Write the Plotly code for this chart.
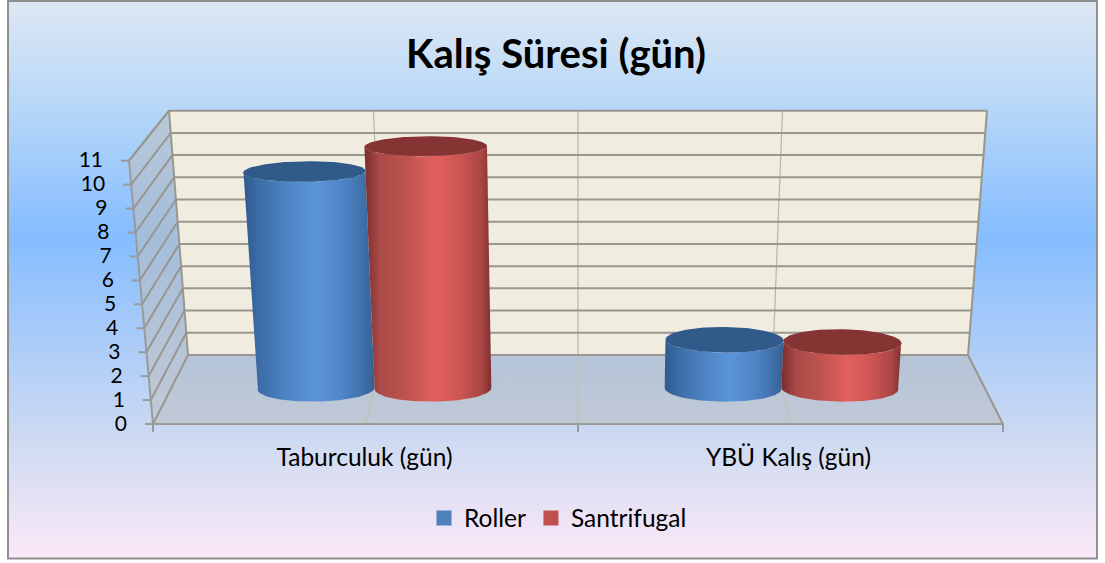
import numpy as np
import plotly.graph_objects as go

# ---- data ----
categories = ["Taburculuk (gün)", "YBÜ Kalış (gün)"]
roller = [9.4, 2.1]
santrifugal = [10.5, 2.0]
value_ticks = list(range(0, 12))
title_text = "Kalış Süresi (gün)"

FONT = "Lato, Carlito, Calibri, sans-serif"
W, H = 1105, 563
YMAX = 11

# axis scale: one category = 425 px, one value unit = 24 px on the front plane
def ax_x(px):
    return (px - 153) / 425
def ax_y(py):
    return (424 - py) / 23.94

# oblique projection of (category position, depth 0..1, value) onto the axes
def project(u, d, v):
    u, d, v = np.asarray(u, float), np.asarray(d, float), np.asarray(v, float)
    f = v / YMAX
    hf = 425 + (449 - 425) * f
    hb = 390 + (409 - 390) * f
    half = hf + (hb - hf) * d
    yf = 424 - f * (424 - 160.7)
    yb = 355 - f * (355 - 110.7)
    return ax_x(578 + (u - 1) * half), ax_y(yf + (yb - yf) * d)

def line_xy(segments):
    xs, ys = [], []
    for s in segments:
        x, y = project(*s)
        xs += list(x) + [None]
        ys += list(y) + [None]
    return xs, ys

fig = go.Figure()
def poly(x, y, **kw):
    fig.add_trace(go.Scatter(x=x, y=y, mode="lines", fill="toself", line=dict(width=0),
                             hoverinfo="skip", showlegend=False, **kw))

# background
bx = [ax_x(9), ax_x(1097), ax_x(1097), ax_x(9), ax_x(9)]
by = [ax_y(2), ax_y(2), ax_y(558), ax_y(558), ax_y(2)]
poly(bx, by, fillgradient=dict(type="vertical", colorscale=[
    [0, "#fbe8f8"], [0.2, "#d0dbf1"], [0.58, "#85bdff"], [0.82, "#b9d8f8"], [1, "#dde7f3"]]))

# walls
x, y = project([0, 2, 2, 0, 0], [1, 1, 1, 1, 1], [0, 0, 11, 11, 0])
poly(list(x), list(y), fillcolor="#f0ede0")
x, y = project([0, 0, 0, 0, 0], [0, 1, 1, 0, 0], [0, 0, 11, 11, 0])
poly(list(x), list(y), fillcolor="rgba(190,190,190,0.55)")
x, y = project([0, 2, 2, 0, 0], [0, 0, 1, 1, 0], [0, 0, 0, 0, 0])
poly(list(x), list(y), fillcolor="rgba(185,185,185,0.5)")

GRID = "#98968e"
# vertical divisions of wall and floor
segs = [([u, u], [1, 1], [0, 11]) for u in (0.5, 1, 1.5)]
xs, ys = line_xy(segs)
fig.add_trace(go.Scatter(x=xs, y=ys, mode="lines", line=dict(color="#b5b5a5", width=1.2),
                         hoverinfo="skip", showlegend=False))
segs = [([u, u], [0, 1], [0, 0]) for u in (0.5, 1, 1.5)]
xs, ys = line_xy(segs)
fig.add_trace(go.Scatter(x=xs, y=ys, mode="lines", line=dict(color="#c3c0b4", width=1.2),
                         hoverinfo="skip", showlegend=False))
# value gridlines running over side wall and back wall
segs = [([0, 0, 2], [0, 1, 1], [v, v, v]) for v in value_ticks]
segs.append(([2, 2], [0, 1], [0, 0]))
segs.append(([2, 2], [1, 1], [0, 11]))
segs.append(([0, 0], [1, 1], [0, 11]))
segs.append(([0, 0], [0, 1], [11, 11]))
xs, ys = line_xy(segs)
fig.add_trace(go.Scatter(x=xs, y=ys, mode="lines", line=dict(color=GRID, width=2),
                         hoverinfo="skip", showlegend=False))

# axis lines
segs = [([0, 2], [0, 0], [0, 0]), ([0, 0], [0, 0], [0, 11])]
xs, ys = line_xy(segs)
for v in value_ticks:
    tx, ty = project(0, 0, v)
    xs += [float(tx), float(tx) - 8 / 425, None]
    ys += [float(ty), float(ty), None]
for u in (0, 1, 2):
    tx, ty = project(u, 0, 0)
    xs += [float(tx), float(tx), None]
    ys += [float(ty), float(ty) - 8 / 23.94, None]
fig.add_trace(go.Scatter(x=xs, y=ys, mode="lines", line=dict(color="#9a9a9a", width=2),
                         hoverinfo="skip", showlegend=False))

# value labels
tx, ty = project(np.zeros(12), np.zeros(12), np.array(value_ticks))
fig.add_trace(go.Scatter(x=tx - 26 / 425, y=ty - 1.5 / 23.94, mode="text", text=[str(v) for v in value_ticks],
                         textposition="middle left", textfont=dict(family=FONT, size=21, color="#000"),
                         hoverinfo="skip", showlegend=False))

# cylinders
R_U, R_D, D_C, OFFSET = 0.1435, 0.196, 0.52, 0.1435
def cylinder(center, value, side_scale, top_color):
    t = np.linspace(np.pi, 2 * np.pi, 61)
    bx, by = project(center + R_U * np.cos(t), D_C + R_D * np.sin(t), np.zeros_like(t))
    tx, ty = project(center + R_U * np.cos(t), D_C + R_D * np.sin(t), np.full_like(t, value))
    poly(list(bx) + list(tx[::-1]) + [bx[0]], list(by) + list(ty[::-1]) + [by[0]],
         fillgradient=dict(type="horizontal", colorscale=side_scale))
    t = np.linspace(0, 2 * np.pi, 121)
    tx, ty = project(center + R_U * np.cos(t), D_C + R_D * np.sin(t), np.full_like(t, value))
    poly(list(tx), list(ty), fillcolor=top_color)

BLUE = [[0, "#2f5a8f"], [0.12, "#3c6ca6"], [0.35, "#4f86c6"], [0.55, "#5b94d9"],
        [0.75, "#4f86c8"], [0.92, "#3f6fa8"], [1, "#355f92"]]
RED = [[0, "#7a2c2c"], [0.12, "#a94a48"], [0.35, "#c2544f"], [0.55, "#e2605c"],
       [0.75, "#cc5653"], [0.92, "#aa4645"], [1, "#7f3030"]]
for i in range(len(categories)):
    cylinder(i + 0.5 - OFFSET, roller[i], BLUE, "#2f5a8a")
    cylinder(i + 0.5 + OFFSET, santrifugal[i], RED, "#853333")

# category labels
fig.add_trace(go.Scatter(x=[ax_x(364.5), ax_x(788.5)], y=[ax_y(460)] * 2, mode="text", text=categories,
                         textposition="middle center", textfont=dict(family=FONT, size=24.5, color="#000"),
                         hoverinfo="skip", showlegend=False))

# legend entries
for name, c in (("Roller", "#4f81bd"), ("Santrifugal", "#c0504d")):
    fig.add_trace(go.Scatter(x=[None], y=[None], mode="markers", name=name,
                             marker=dict(symbol="square", size=15, color=c)))

fig.update_layout(
    width=W, height=H, autosize=False,
    margin=dict(l=0, r=0, t=0, b=0),
    paper_bgcolor="white", plot_bgcolor="rgba(0,0,0,0)",
    xaxis=dict(range=[ax_x(0), ax_x(W)], visible=False, fixedrange=True),
    yaxis=dict(range=[ax_y(H), ax_y(0)], visible=False, fixedrange=True),
    title=dict(text=f"<b>{title_text}</b>", x=556 / W, xanchor="center", y=1 - 54 / H, yanchor="middle",
               font=dict(family=FONT, size=40, color="#000")),
    legend=dict(orientation="h", x=558 / W, xanchor="center", y=1 - 518 / H, yanchor="middle",
                bgcolor="rgba(0,0,0,0)", font=dict(family=FONT, size=24.5, color="#000")),
    shapes=[dict(type="rect", xref="paper", yref="paper", x0=8 / W, x1=1097 / W, y0=1 - 1 / H, y1=1 - 558.5 / H,
                 line=dict(color="#8f8f8f", width=2), fillcolor="rgba(0,0,0,0)")],
)
fig.write_html("out.html", config=dict(displayModeBar=False),
               post_script="document.body.style.margin='0';document.body.style.overflow='hidden';")
